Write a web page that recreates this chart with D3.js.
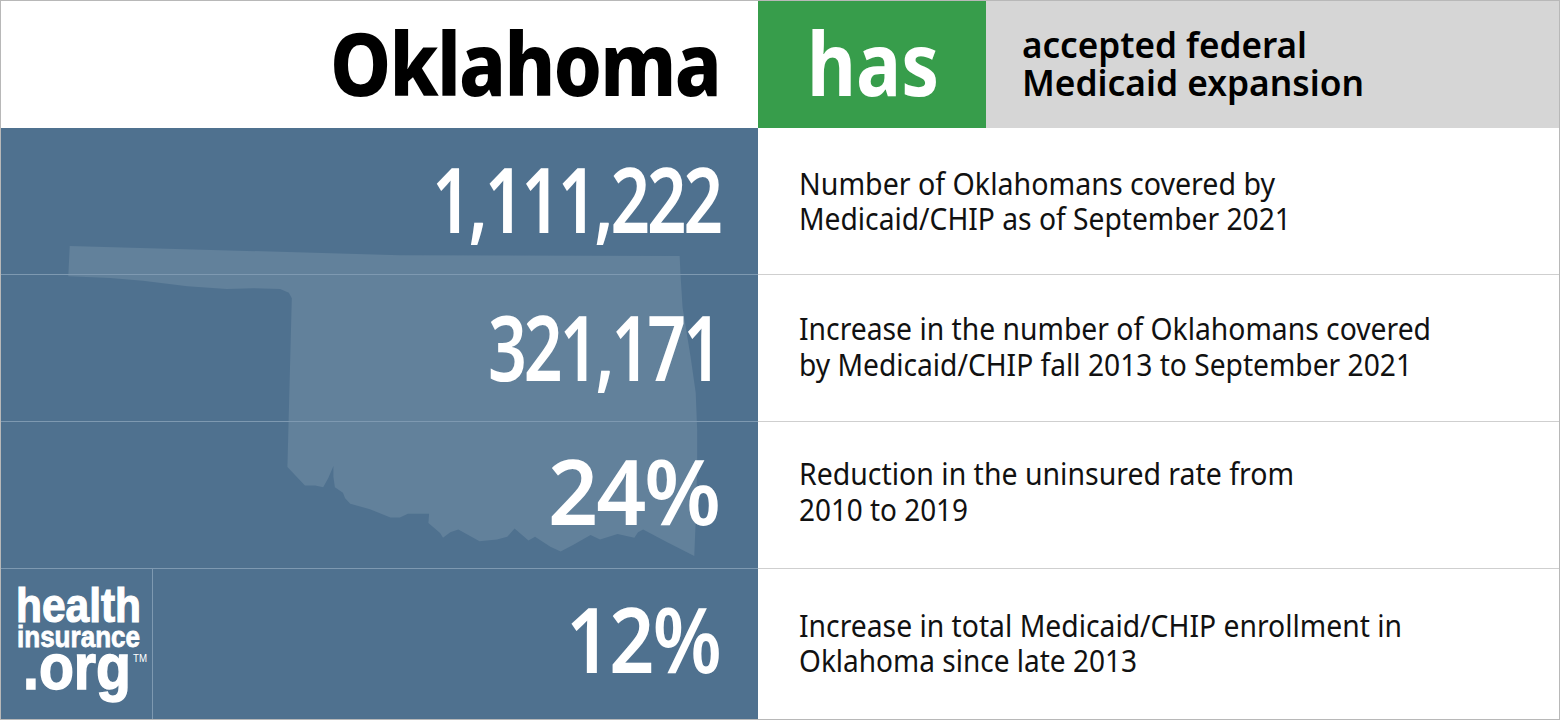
<!DOCTYPE html>
<html>
<head>
<meta charset="utf-8">
<script src="https://cdn.jsdelivr.net/npm/d3@7"></script>
<style>
    html, body { margin: 0; padding: 0; background: #fff; }
    svg { display: block; }
    text { font-family: "Noto Sans", sans-serif; }
</style>
</head>
<body>
<div id="chart"></div>
<script>
// values
var stateName = "Oklahoma";
var statusWord = "has";
var statusText = ["accepted federal", "Medicaid expansion"];
var figures = ["1,111,222", "321,171", "24%", "12%"];
var descriptions = [
    ["Number of Oklahomans covered by", "Medicaid/CHIP as of September 2021"],
    ["Increase in the number of Oklahomans covered", "by Medicaid/CHIP fall 2013 to September 2021"],
    ["Reduction in the uninsured rate from", "2010 to 2019"],
    ["Increase in total Medicaid/CHIP enrollment in", "Oklahoma since late 2013"]
];

// state outline, lon and lat
var stateLon = [-102.99, -98.47, -94.64, -94.63, -94.60, -94.49, -94.42, -94.40, -94.40, -94.42, -94.44,
    -94.81, -95.14, -95.21, -95.26, -95.49, -95.73, -95.86, -96.10, -96.27, -96.41, -96.62, -96.71, -96.90,
    -97.00, -97.14, -97.38, -97.67, -97.78, -97.88, -97.92, -98.08, -98.07, -98.36, -98.47, -98.60, -98.88,
    -99.15, -99.22, -99.25, -99.36, -99.38, -99.38, -99.45, -99.52, -99.63, -99.77, -100.01, -99.95, -99.99,
    -100.11, -100.48, -100.84, -101.38, -101.99, -102.44, -103.01];
var stateLat = [37.00, 36.90, 36.89, 36.71, 36.33, 35.79, 35.40, 34.99, 34.63, 34.01, 33.62,
    33.77, 33.91, 33.88, 33.82, 33.86, 33.80, 33.85, 33.74, 33.67, 33.72, 33.83, 33.79, 33.92,
    33.83, 33.80, 33.78, 33.91, 33.88, 33.82, 33.87, 33.98, 34.08, 34.08, 34.04, 34.04, 34.13,
    34.19, 34.25, 34.31, 34.37, 34.48, 34.60, 34.47, 34.37, 34.39, 34.39, 34.59, 36.43, 36.49,
    36.53, 36.54, 36.53, 36.56, 36.62, 36.65, 36.67];

var width = 1560, height = 720;

var svg = d3.select("#chart").append("svg")
    .attr("width", width)
    .attr("height", height);

// row edges of the table
var rowEdges = [128, 274.5, 421.5, 568.5, 719];
var figureBaselines = [233, 381, 525, 673];
var figureRight = [720, 719, 719, 720];
var figureWidths = [288, 231, 171, 154];
var figureSpacing = [-4, -4, -2, -2];
var descBaselines = [[195, 230], [340, 376], [485, 521], [637, 672]];
var descWidths = [[476, 492], [632, 613], [495, 169], [603, 338]];

var xLon = d3.scaleLinear().domain([-103, -94.43]).range([69, 695]);
var yLat = d3.scaleLinear().domain([37, 33.62]).range([246, 556]);

// fits text to the width it has in the picture
function label(x, y, txt, size, weight, fill, anchor, w) {
    return svg.append("text")
        .attr("x", x)
        .attr("y", y)
        .attr("text-anchor", anchor)
        .attr("font-size", size)
        .attr("font-weight", weight)
        .attr("fill", fill)
        .attr("textLength", w)
        .attr("lengthAdjust", "spacingAndGlyphs")
        .text(txt);
}

// panels
svg.append("rect").attr("x", 758).attr("y", 0).attr("width", 228).attr("height", 128).attr("fill", "#379d4b");
svg.append("rect").attr("x", 986).attr("y", 0).attr("width", 574).attr("height", 128).attr("fill", "#d6d6d6");
svg.append("rect").attr("x", 0).attr("y", 128).attr("width", 758).attr("height", 592).attr("fill", "#4f718f");

// state shape
var outline = d3.line()
    .x(function(d) { return xLon(d[0]); })
    .y(function(d) { return yLat(d[1]); });
svg.append("path")
    .datum(d3.zip(stateLon, stateLat))
    .attr("d", function(d) { return outline(d) + "Z"; })
    .attr("fill", "#62819b");

// row lines
svg.selectAll(".row-left").data(rowEdges.slice(1, 4)).enter().append("line")
    .attr("x1", 0).attr("x2", 758)
    .attr("y1", function(d) { return d; }).attr("y2", function(d) { return d; })
    .attr("stroke", "#7e99b1");
svg.selectAll(".row-right").data(rowEdges.slice(1, 4)).enter().append("line")
    .attr("x1", 758).attr("x2", width)
    .attr("y1", function(d) { return d; }).attr("y2", function(d) { return d; })
    .attr("stroke", "#cfcfcf");
svg.append("line")
    .attr("x1", 152.5).attr("x2", 152.5).attr("y1", 568.5).attr("y2", height)
    .attr("stroke", "#7e99b1");

// header
label(720, 96, stateName, 88, 800, "#000", "end", 390).style("letter-spacing", "-2px");
label(873, 96, statusWord, 88, 700, "#fff", "middle", 132);
label(1022, 58, statusText[0], 36, 600, "#000", "start", 285);
label(1022, 96, statusText[1], 36, 600, "#000", "start", 342);

// rows
figures.forEach(function(f, i) {
    label(figureRight[i], figureBaselines[i], f, 90, 600, "#fff", "end", figureWidths[i])
        .style("letter-spacing", figureSpacing[i] + "px");
    descriptions[i].forEach(function(line, j) {
        label(799, descBaselines[i][j], line, 31, 400, "#111", "start", descWidths[i][j]);
    });
});

// logo
var logoFont = "'Liberation Sans', sans-serif";
label(16, 622, "health", 48, 700, "#fff", "start", 125).style("font-family", logoFont)
    .attr("stroke", "#fff").attr("stroke-width", 1.2);
label(17, 647, "insurance", 30, 700, "#fff", "start", 123).style("font-family", logoFont)
    .attr("stroke", "#fff").attr("stroke-width", 0.8);
label(23, 689, ".org", 65, 700, "#fff", "start", 108).style("font-family", logoFont)
    .attr("stroke", "#fff").attr("stroke-width", 1.5);
label(133, 662, "TM", 11, 400, "#fff", "start", 14).style("font-family", logoFont);

// outer border
svg.append("rect")
    .attr("x", 0.5).attr("y", 0.5)
    .attr("width", width - 1).attr("height", height - 1)
    .attr("fill", "none")
    .attr("stroke", "#b8b8b8");
</script>
</body>
</html>
